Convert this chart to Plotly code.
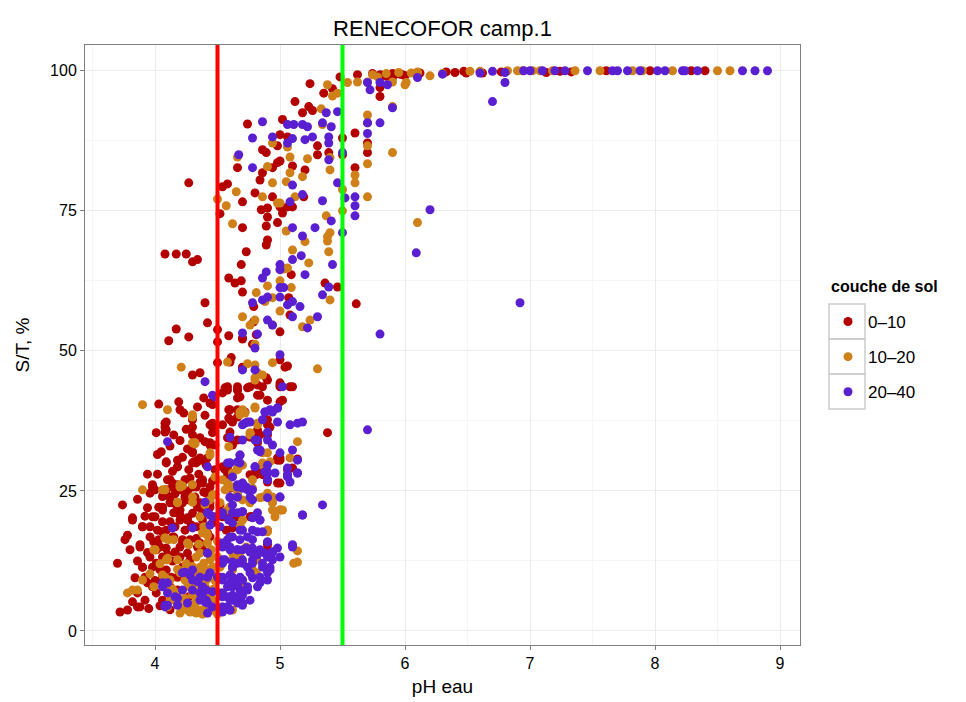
import plotly.graph_objects as go

# ---- data: (pH eau, S/T %) ----
pts_0_10 = [
    (4.27,80.0),(4.08,67.3),(4.17,67.3),(4.25,67.3),(4.30,65.9),(4.34,66.3),
    (4.74,90.5),(5.12,94.5),(5.24,97.7),(5.48,98.9),(5.62,99.3),(5.35,96.0),(5.42,96.8),
    (5.23,93.6),(5.18,92.5),(5.26,92.9),(5.02,91.3),(5.00,88.6),(5.06,88.2),(4.98,86.6),
    (4.86,85.9),(4.89,85.4),(4.98,83.6),(5.00,83.9),(5.10,83.0),(4.94,82.7),(4.66,82.7),
    (4.86,81.8),(4.84,80.5),(5.20,82.3),(5.30,86.6),(5.30,85.0),(5.39,85.4),(5.50,88.0),(5.50,85.0),
    (5.60,88.9),(5.70,90.7),(5.70,87.1),(5.70,85.4),(5.60,82.7),(5.80,95.4),
    (4.58,79.8),(4.54,79.3),(4.52,74.5),(4.70,76.6),(4.80,78.2),(4.94,77.5),
    (4.85,75.2),(4.90,75.5),(4.90,73.9),(5.00,75.7),(5.02,74.6),(5.06,75.7),(5.10,75.7),
    (4.98,72.9),(5.19,77.5),(4.89,72.3),(4.70,72.0),(4.90,69.8),(4.89,68.9),(4.73,67.7),
    (4.69,65.4),(4.59,63.0),(4.64,62.1),(4.69,62.5),(4.70,60.5),(5.09,63.6),(5.07,59.5),(5.08,56.4),
    (5.36,62.1),(5.46,61.4),(5.61,58.4),(4.40,58.6),(4.42,55.0),(4.17,53.9),(4.11,51.8),(4.27,52.5),
    (4.50,53.8),(4.50,51.6),(4.59,52.7),(4.70,52.3),(4.81,52.9),(5.00,53.4),(4.79,57.9),(4.79,55.2),
    (4.50,47.9),(4.60,48.0),(4.61,48.8),(4.30,45.7),(4.36,46.1),(5.00,48.4),(5.04,47.1),(4.89,45.2),(4.90,44.8),
    (4.70,47.0),(4.78,51.2),(4.58,43.6),(4.66,43.6),(4.76,43.6),(4.86,43.6),(5.00,43.6),(5.08,43.6),
    (5.06,47.3),(4.70,52.1),
    (5.74,99.5),(5.82,99.2),(5.90,99.5),(5.98,99.3),(5.80,97.0),
    (5.80,99.3),(5.85,99.0),(5.90,98.8),(5.96,99.4),(6.00,99.1),(6.12,99.6),(6.33,99.8),(6.40,99.7),
    (6.47,99.9),(6.49,99.6),(6.62,99.6),(6.77,99.8),(7.13,99.7),(7.24,99.9),(7.33,99.8),(7.61,100),
    (7.96,100),(8.29,100),(8.40,100),
    (4.03,40.5),(4.19,40.9),(4.20,39.5),(4.23,38.9),(4.09,37.3),(4.08,36.4),(4.09,35.9),(4.01,35.4),
    (4.30,37.7),(4.30,36.4),(4.30,35.0),(4.39,41.6),(4.44,40.7),(4.40,33.8),(4.44,33.2),
    (4.30,31.8),(4.31,30.2),(4.36,30.5),(4.09,30.2),(4.18,30.5),(4.44,36.8),(4.46,36.4),
    (4.56,43.4),(4.54,42.5),(4.59,39.5),(4.60,37.7),(4.66,43.0),(4.66,41.6),(4.70,47.1),(4.72,39.1),(4.74,43.4),
    (4.84,42.1),(4.90,41.2),(5.00,44.3),(5.10,43.6),(4.90,36.8),(4.90,35.0),(4.82,34.6),
    (5.00,40.9),(5.38,35.4),(4.60,35.5),(4.66,34.1),(4.98,30.9),(5.14,30.7),
    (4.46,40.4),(4.46,37.1),(4.46,35.4),(4.54,36.8),(4.82,42.1),(4.66,39.5),(4.70,39.1),(4.59,38.0),
    (4.62,37.3),(4.82,35.9),(5.02,41.2),(4.98,30.5),(4.30,30.0),(4.38,30.5),(4.58,29.1),(4.80,27.9),
    (4.90,26.6),(4.77,20.4),(4.90,15.7),(4.90,14.5),(4.00,25.2),(4.10,27.0),(4.24,27.0),(4.08,37.1),(4.08,35.5),
    (3.74,22.5),(3.82,19.8),(3.78,17.1),(3.76,16.3),(3.70,12.1),(3.72,3.4),(3.78,3.75),(3.88,4.3),(3.82,5.2),
    (3.90,11.4),(3.92,9.6),(3.88,15.0),(3.90,18.6),(3.96,18.6),(3.96,24.6),(3.98,26.1),(4.00,20.4),(4.03,22.1),(4.06,21.6),
    (3.99,15.9),(4.03,16.3),(3.96,13.2),(3.98,11.4),(3.99,7.9),(4.01,6.8),(4.06,5.5),
    (4.09,25.2),(4.14,26.4),(4.12,23.9),(4.09,30.0),(4.18,29.3),(4.18,26.1),(4.22,25.7),
    (4.12,22.9),(4.18,22.1),(4.22,22.9),(4.15,21.1),(4.20,20.7),(4.06,19.5),(4.09,18.0),(4.16,18.6),
    (4.01,14.5),(4.06,13.2),(4.09,14.8),(4.04,10.9),(4.09,10.9),(4.13,9.6),(4.15,16.8),(4.22,16.3),
    (4.20,19.8),(4.26,20.2),(4.29,18.9),(4.27,23.4),(4.32,23.9),(4.33,25.7),(4.39,24.8),(4.44,25.7),
    (4.36,22.1),(4.41,21.6),(4.33,18.6),(4.28,16.3),(4.36,14.5),(4.26,13.9),(4.16,14.1),(4.22,11.4),(4.28,10.9),
    (4.09,7.9),(4.18,7.3),(4.18,5.2),(4.27,6.1),(4.27,28.8),(4.33,30.0),(4.41,29.6),(4.48,28.8),(4.54,29.3),(4.58,28.2),
    (4.60,25.5),(4.66,23.9),(4.60,22.1),(4.64,20.7),(4.52,22.5),(4.54,20.4),(4.41,18.6),(4.46,19.3),(4.44,16.8),
    (4.68,18.6),(4.76,20.4),(4.80,28.2),(4.86,27.9),(4.98,26.4),(5.00,30.5),(5.10,29.1),(4.90,18.0),
    (3.82,20.2),(3.90,18.6),(3.98,20.4),(4.06,22.1),(4.14,22.9),(3.88,15.4),(3.96,16.8),(4.06,17.7),
    (3.90,11.4),(4.01,12.1),(3.98,7.9),(3.86,4.3),(3.92,5.5),(4.06,9.6),(4.12,7.9),(4.18,9.6),(4.20,13.2),
    (4.28,12.7),(4.22,15.7),(4.34,15.0),(4.26,19.8),(4.38,19.8),(4.42,17.5),(4.34,22.1),(4.20,21.6),(4.44,22.1),
    (4.10,13.6),(4.04,15.0),(4.14,16.8),(3.86,6.8),(3.94,8.6),(4.28,7.9),(4.60,20.4),
    (4.41,24.6),(4.36,22.9),(4.44,22.9),(4.54,21.1),(4.66,20.4),(4.62,18.4),(4.57,18.0),(4.39,18.0),
    (4.78,20.4),(4.90,15.4),(4.90,13.9),(4.36,15.7),(4.38,14.5),(4.81,13.0),(4.76,27.9),(4.81,27.9),(5.00,26.4),
    (4.38,21.1),
    (4.05,32.0),(4.12,33.0),(4.20,34.0),(4.26,32.5),(4.35,28.0),(4.14,28.5),(4.02,28.0),(4.22,31.0),
    (4.36,26.5),(4.46,26.8),(4.24,24.0),(4.16,24.5),(4.06,24.0),(3.94,22.0),(3.86,23.5),(3.94,28.0),
    (4.02,31.5),(4.15,35.0),(4.25,36.0),(4.36,34.5),(4.40,38.5),(4.34,40.0),
    (4.00,9.0),(4.04,4.5),(3.95,4.0),(4.12,3.8),(4.14,12.5),(4.20,15.0),(4.24,18.0),(4.30,21.0),
    (4.33,16.5),(4.02,18.0),(3.94,14.0),(3.86,12.5),(3.84,9.5),(3.80,14.5),(4.12,19.5),(4.26,25.0),
    (4.38,27.0),(3.92,20.5),
    (4.44,33.6),(4.48,33.2),(4.30,32.0),(4.34,30.5),(4.36,30.9),(4.42,30.9),(4.18,29.3),
    (3.98,25.7),(4.12,27.0),(4.14,25.7),(4.20,25.2),(4.28,27.3),(4.30,25.7),(4.38,26.4),(4.42,24.6),
    (4.58,43.0),(4.66,43.0),(4.68,41.8),(4.82,43.9),(5.00,43.9),(4.60,39.5),(4.66,38.2),(4.68,38.9),
    (4.90,37.7),(4.92,36.4),(4.84,35.0),(4.76,34.6),(4.82,33.6),(4.58,34.5),(4.62,33.2),(5.00,30.9),
    (5.06,28.8),(4.84,28.8),(4.68,25.7),(4.76,25.2),(4.56,28.8),(4.58,27.5),
]

pts_10_20 = [
    (5.38,97.5),(5.42,95.5),(5.46,96.0),(5.54,97.9),(5.62,98.0),(5.70,98.0),(5.74,99.3),(5.78,98.9),(6.01,97.9),(6.10,99.6),
    (5.90,93.6),(5.70,92.1),(5.70,86.6),(5.70,83.4),(5.70,77.5),(5.90,85.4),(5.60,81.4),(5.60,80.0),(5.33,93.2),(5.34,90.4),
    (5.22,84.3),(5.40,84.5),(5.40,82.3),(5.08,84.6),(5.08,81.8),(5.06,86.4),(4.94,87.1),(4.90,82.9),(4.94,80.0),(5.05,80.2),
    (5.18,81.1),(5.12,77.5),(4.98,76.4),(5.00,76.4),(4.86,77.5),(4.65,78.4),(4.57,75.9),(4.50,77.1),(4.62,72.7),(4.66,84.6),
    (5.05,71.4),(5.20,69.5),(5.37,74.1),(5.38,70.4),(5.40,71.1),(5.38,69.6),(5.50,75.0),(5.50,78.8),(5.39,67.7),(5.10,68.0),
    (5.23,65.7),(5.00,64.5),(5.03,64.6),(5.06,64.8),(5.00,62.5),(5.09,61.3),(4.90,61.6),(4.81,60.4),(4.88,58.8),(4.94,59.5),
    (5.40,59.1),(4.70,56.1),(4.76,54.6),(4.80,55.5),(4.94,54.6),(5.00,57.1),(5.18,54.3),(5.24,55.5),(4.80,51.2),(4.80,47.5),(4.74,47.7),
    (4.94,47.9),(4.82,46.1),(4.80,44.8),(4.58,48.0),(4.21,47.1),(5.30,46.8),(6.10,72.9),
    (5.90,98.0),(6.00,97.5),(6.10,99.8),(6.20,99.1),(6.30,99.5),(6.52,99.9),(6.60,99.9),(6.82,100),(6.90,100),(6.94,100),
    (7.02,100),(7.08,100),(7.18,100),(7.36,100),(7.56,100),(7.82,100),(7.90,100),(8.14,100),(8.50,100),(8.60,100),
    (5.85,99.5),(6.05,99.6),(5.95,99.7),
    (3.90,40.4),(4.10,39.5),(4.30,38.6),(4.32,33.4),(4.44,31.4),(4.59,32.9),(4.68,38.6),(4.80,40.0),(4.82,37.1),(4.80,45.2),
    (4.86,45.7),(4.76,35.0),(4.86,31.8),(5.14,33.8),(4.92,30.2),
    (4.30,33.6),(4.68,39.1),(4.72,38.9),(4.82,36.8),(4.66,29.1),(4.70,29.6),(4.86,30.0),(5.08,30.9),(5.14,12.3),(5.14,14.3),
    (5.00,21.6),(4.96,20.4),(4.90,24.3),(4.84,23.8),(4.90,17.7),(4.78,27.0),(4.66,25.7),(4.56,25.2),(4.30,26.1),(4.22,25.9),
    (4.06,25.2),(3.78,6.8),(3.86,7.3),(4.00,14.5),(4.10,13.0),(4.10,7.7),
    (4.20,26.1),(4.18,23.0),(4.30,23.0),(4.44,23.4),(4.48,24.3),(4.58,26.4),(4.62,25.7),(4.70,26.4),(4.78,25.5),
    (4.90,24.6),(4.94,22.9),(5.02,21.6),(4.41,17.7),(4.11,16.3),(4.15,16.3),(4.08,16.6),(4.27,15.4),(3.99,14.5),
    (4.09,12.7),(4.18,12.7),(4.33,13.2),(4.39,12.1),(4.44,12.7),(4.50,13.2),(4.44,10.9),(4.62,12.7),(4.68,13.2),(4.73,15.0),
    (4.78,10.9),(4.81,12.7),(5.11,12.1),
    (3.99,7.9),(4.08,9.6),(4.12,9.1),(4.20,10.4),(4.24,9.1),(4.28,7.9),(4.33,8.6),(4.41,9.1),(4.36,10.4),(4.41,10.9),
    (4.15,5.5),(4.22,4.3),(4.28,3.4),(4.36,3.75),(4.41,4.3),(4.46,5.5),(4.54,6.8),(4.54,4.3),(4.10,4.3),(4.18,6.8),
    (4.54,9.5),(4.52,11.4),(4.66,28.8),(4.86,29.6),
    (4.32,5.0),(4.38,6.0),(4.47,7.5),(4.30,11.5),(4.25,12.0),(4.35,15.5),(4.45,14.5),(4.50,16.0),(4.38,17.5),(4.48,9.0),
    (4.26,4.5),(4.33,3.2),
    (4.18,22.9),(4.08,16.6),(4.26,15.7),(4.10,12.7),(4.00,14.5),(4.42,15.7),(4.44,13.6),(4.36,11.4),(4.46,11.4),
    (4.26,8.6),(4.34,9.1),(4.44,9.6),(4.42,6.8),(4.34,5.5),(4.46,5.5),(4.26,3.75),(4.42,3.2),(4.18,5.0),(4.12,5.5),
    (3.82,7.3),(3.90,9.1),(4.38,3.0),(4.40,22.5),(4.60,22.1),
    (4.66,24.6),(4.70,23.4),(4.76,22.9),(4.90,24.3),(4.94,23.0),(5.00,21.6),(4.94,21.6),(4.52,22.9),(4.58,21.6),
    (4.36,20.4),(4.39,18.6),(4.42,17.1),(4.68,18.9),(4.70,19.8),(4.90,18.0),(4.36,13.9),(4.38,11.4),(4.42,9.6),
    (4.36,8.6),(4.39,6.8),(4.42,7.3),(4.62,13.9),(4.62,10.9),(4.78,10.9),(4.81,10.4),(4.70,9.1),(4.70,8.6),
    (4.44,6.1),(4.46,3.75),(4.62,3.75),
    (4.20,3.2),(4.24,5.8),(4.30,4.0),(4.40,3.5),(4.50,3.0),(4.48,4.0),(4.36,7.2),(4.30,6.5),(4.40,8.0),
    (4.46,10.0),(4.50,11.5),(4.30,9.8),(4.24,11.0),(4.18,11.0),(4.14,7.5),(4.06,10.0),(4.04,12.0),(3.96,10.2),
    (4.30,38.2),(4.32,33.6),(4.44,31.8),(4.48,27.5),(4.54,27.0),(4.62,28.2),(4.80,39.8),(4.70,39.5),(4.76,35.4),
    (4.90,31.8),(4.20,25.7),(4.08,25.2),(3.90,25.2),(4.30,23.9),(4.46,24.3),(4.60,25.7),(4.66,24.3),(4.86,23.9),(4.94,23.9),
]

pts_20_40 = [
    (5.80,90.7),(5.90,93.4),(6.10,98.8),(6.70,94.5),(6.80,97.9),(5.86,97.5),(6.30,99.4),(6.60,99.6),(6.70,99.9),(6.80,99.7),
    (6.95,100),(7.00,100),(7.10,100),(7.20,100),(7.28,100),(7.46,100),(7.66,100),(7.70,100),(7.78,100),(7.88,100),
    (8.02,100),(8.08,100),(8.22,100),(8.24,100),(8.34,100),(8.70,100),(8.80,100),(8.90,100),
    (4.86,90.9),(4.78,88.0),(4.94,88.2),(5.06,90.4),(5.11,90.4),(5.18,90.4),(5.22,90.0),(5.26,88.2),(5.20,87.7),(5.10,87.9),(5.06,87.1),
    (5.34,90.7),(5.41,90.0),(5.37,92.5),(5.46,92.7),(5.39,88.2),(5.39,87.1),(5.50,85.4),(5.39,84.1),(5.70,88.8),(5.70,90.7),
    (5.70,97.9),(5.72,96.6),(5.80,97.9),(4.78,82.7),(4.67,85.0),(5.10,79.6),(5.18,77.9),(5.08,76.6),(5.34,76.8),(5.46,80.0),
    (5.52,77.3),(5.60,77.5),(5.60,75.9),(5.60,74.1),(5.41,73.2),(5.10,72.0),(5.18,70.5),(5.28,72.0),(5.50,71.1),(5.10,66.3),(5.17,67.0),
    (5.42,65.4),(5.20,63.6),(4.89,64.1),(4.86,63.0),(5.00,65.4),(5.00,64.5),(5.00,61.3),(5.03,61.3),(4.90,59.6),(5.00,59.6),
    (5.06,58.2),(5.10,58.8),(5.16,57.9),(4.78,58.6),(4.86,59.1),(4.90,55.5),(4.94,54.6),(5.10,56.1),(5.30,56.1),(5.22,54.1),
    (5.34,60.0),(5.39,61.4),(4.70,53.2),(4.82,53.0),(4.80,50.5),(5.00,49.3),(4.80,46.6),(4.70,46.6),(4.40,44.5),(5.80,53.0),
    (6.09,67.5),(5.70,35.9),(6.20,75.2),(6.92,58.6),
    (4.86,37.7),(4.88,39.1),(4.92,39.5),(4.98,39.8),(4.98,37.3),(5.08,36.8),(5.14,37.1),(5.18,37.3),(4.70,36.8),(4.74,37.3),
    (4.60,34.6),(4.70,34.1),(4.80,34.1),(4.82,32.3),(4.90,35.5),(4.90,34.1),(4.10,33.8),(5.10,32.3),(5.14,30.5),(5.00,31.8),
    (5.02,43.6),(4.42,29.3),(4.60,30.0),(4.68,31.4),(4.46,42.1),(4.14,18.4),(4.30,18.4),(4.72,37.1),(4.76,37.3),(4.84,32.3),
    (4.80,29.3),(4.90,28.4),(4.94,33.2),(5.06,29.1),(5.06,27.5),(5.00,23.9),(5.34,22.5),(5.18,20.7),(5.10,15.2),(4.58,30.0),
    (4.66,30.2),(4.60,23.8),(4.66,23.9),(4.74,25.2),(4.40,23.0),(4.44,20.7),(4.54,21.1),(4.59,19.8),(4.66,21.1),(4.42,13.9),
    (4.24,10.5),(4.30,10.9),(4.06,8.6),(4.18,5.9),(4.10,4.6),(4.34,8.8),(4.36,6.8),
    (4.88,28.4),(4.90,29.6),(4.96,28.2),(5.06,27.9),(5.14,28.2),(4.66,26.1),(4.73,25.7),(4.78,23.4),(4.90,23.8),
    (4.42,21.1),(4.48,20.4),(4.54,20.7),(4.62,21.1),(4.70,21.3),(4.78,20.2),(4.84,19.8),(4.44,18.9),(4.52,18.6),(4.62,19.3),
    (4.68,18.0),(4.74,16.8),(4.82,17.7),(4.90,15.9),(4.58,16.3),(4.60,15.0),(4.66,14.5),(4.73,14.8),(4.78,14.8),(4.82,13.6),
    (4.88,13.9),(4.94,14.1),(4.54,12.7),(4.62,11.4),(4.66,12.1),(4.70,12.7),(4.74,11.4),(4.78,12.7),(4.86,11.4),(4.92,11.4),
    (4.90,10.4),(4.22,10.4),(4.28,10.0),(4.36,9.6),(4.44,10.4),(4.50,9.6),(4.54,9.1),(4.62,9.6),(4.70,9.1),(4.78,9.5),
    (4.84,8.6),(4.62,7.9),(4.68,7.3),(4.74,7.3),(4.41,7.3),(4.46,7.0),(4.52,6.8),(4.58,6.1),(4.06,7.9),(4.10,6.8),
    (4.08,4.3),(4.18,4.6),(4.26,5.0),(4.36,5.5),(4.41,5.5),(4.46,4.3),(4.58,4.3),(4.62,5.5),(4.70,5.0),(4.54,3.4),
    (4.60,3.75),(5.10,15.0),(4.98,14.8),(4.94,12.7),(5.00,13.2),
    (4.30,9.1),(4.22,7.3),(4.16,6.1),(4.08,4.6),(4.10,8.6),(4.30,7.3),(4.38,7.7),(4.54,15.7),(4.60,16.8),(4.66,14.5),
    (4.56,12.7),(4.62,11.4),(4.54,9.6),(4.60,8.6),(4.66,9.1),(4.54,6.8),(4.60,5.5),(4.66,6.1),(4.54,4.3),(4.60,3.75),(4.40,5.2),
    (4.62,27.5),(4.90,28.2),(4.90,27.0),(5.06,27.9),(5.14,28.2),(5.08,26.6),(5.00,23.9),(4.70,25.5),(4.76,23.9),(4.78,25.2),
    (4.60,23.9),(4.62,22.5),(4.42,21.1),(4.46,20.4),(4.70,21.3),(4.82,21.1),(4.84,19.8),(5.18,20.7),(4.70,18.0),(4.78,18.0),
    (4.86,17.7),(4.62,16.8),(4.68,16.3),(4.78,16.3),(4.90,15.9),(4.54,15.0),(4.60,14.5),(4.70,14.5),(4.76,14.1),(4.84,14.5),
    (4.94,14.1),(4.90,13.2),(5.10,15.4),(4.42,13.9),(4.54,12.1),(4.62,12.3),(4.70,12.1),(4.78,12.1),(4.86,12.1),(4.92,10.9),
    (4.52,9.6),(4.60,10.0),(4.68,9.6),(4.76,10.4),(4.84,9.6),(4.90,9.1),(4.58,7.9),(4.66,8.2),(4.74,7.9),(4.82,7.9),
    (4.54,6.1),(4.62,6.4),(4.70,6.4),(4.76,5.5),(4.58,4.3),(4.66,5.0),(4.70,4.6),(4.42,5.0),(4.38,6.1),(4.42,3.2),
    (4.42,9.6),(4.38,7.9),
    (4.48,41.8),(4.88,39.1),(4.94,39.1),(4.98,39.8),(4.82,34.1),(4.84,32.0),(4.68,31.4),(4.68,30.0),(4.60,30.0),
    (4.80,29.3),(4.88,28.4),(4.90,27.0),(4.66,25.7),(4.70,26.4),
]

series_names = ["0\u201310", "10\u201320", "20\u201340"]
series_colors = ["#B30000", "#D08019", "#5A1FD1"]
threshold_values = [4.5, 5.5]
threshold_colors = ["#FF0000", "#00FF00"]
x_ticks = [4, 5, 6, 7, 8, 9]
y_ticks = [0, 25, 50, 75, 100]

FONT = "Liberation Sans, Arial, sans-serif"

fig = go.Figure()
for name, pts, col in zip(series_names, [pts_0_10, pts_10_20, pts_20_40], series_colors):
    fig.add_trace(go.Scatter(
        x=[p[0] for p in pts], y=[p[1] for p in pts],
        mode="markers", name=name, legendgroup=name,
        marker=dict(color=col, size=9, line=dict(width=0)),
    ))

for v, c in zip(threshold_values, threshold_colors):
    fig.add_shape(type="line", x0=v, x1=v, y0=0, y1=1, xref="x", yref="paper",
                  line=dict(color=c, width=4), layer="above")

# legend key boxes (ggplot-style)
L, R, T, B = 85, 800, 45, 645
def px_x(p): return (p - L) / (R - L)
def px_y(p): return (B - p) / (B - T)
for k in range(3):
    top = 304 + 35 * k
    fig.add_shape(type="rect", xref="paper", yref="paper",
                  x0=px_x(829), x1=px_x(865), y0=px_y(top + 35), y1=px_y(top),
                  line=dict(color="#CCCCCC", width=1.5), fillcolor="rgba(0,0,0,0)", layer="below")

fig.add_annotation(text="<b>couche de sol</b>", xref="paper", yref="paper",
                   x=px_x(829), y=px_y(286), xanchor="left", yanchor="middle", showarrow=False,
                   font=dict(family=FONT, size=16, color="#000000"))

axis_common = dict(
    showgrid=True, gridcolor="#EBEBEB", gridwidth=1, automargin=False,
    zeroline=False, showline=True, linecolor="#7F7F7F", linewidth=1, mirror=True,
    ticks="outside", ticklen=4, tickcolor="#7F7F7F",
    tickfont=dict(family=FONT, size=16, color="#000000"),
)

fig.update_layout(
    width=966, height=702,
    margin=dict(l=L, r=966 - R, t=T, b=702 - B, autoexpand=False),
    paper_bgcolor="white", plot_bgcolor="white",
    title=dict(text="RENECOFOR camp.1", x=(L + R) / 2 / 966, xanchor="center",
               y=1 - 28 / 702, yanchor="middle",
               font=dict(family=FONT, size=22, color="#000000")),
    xaxis=dict(range=[3.44, 9.16], tickvals=x_ticks,
               minor=dict(dtick=0.5, tick0=3.5, showgrid=True, gridcolor="#F5F5F5", ticks=""),
               title=dict(text="pH eau", font=dict(family=FONT, size=19, color="#000000"), standoff=8),
               **axis_common),
    yaxis=dict(range=[-2.5, 104.6], tickvals=y_ticks,
               minor=dict(dtick=12.5, tick0=12.5, showgrid=True, gridcolor="#F5F5F5", ticks=""),
               title=dict(text="S/T, %", font=dict(family=FONT, size=19, color="#000000"), standoff=15),
               **axis_common),
    legend=dict(
        x=px_x(828), y=px_y(304), xanchor="left", yanchor="top",
        font=dict(family=FONT, size=17, color="#000000"),
        bgcolor="rgba(0,0,0,0)", tracegroupgap=10, itemsizing="trace",
    ),
    showlegend=True,
)

fig.write_html("out.html", config={"displayModeBar": False},
               post_script="document.body.style.margin='0';")
